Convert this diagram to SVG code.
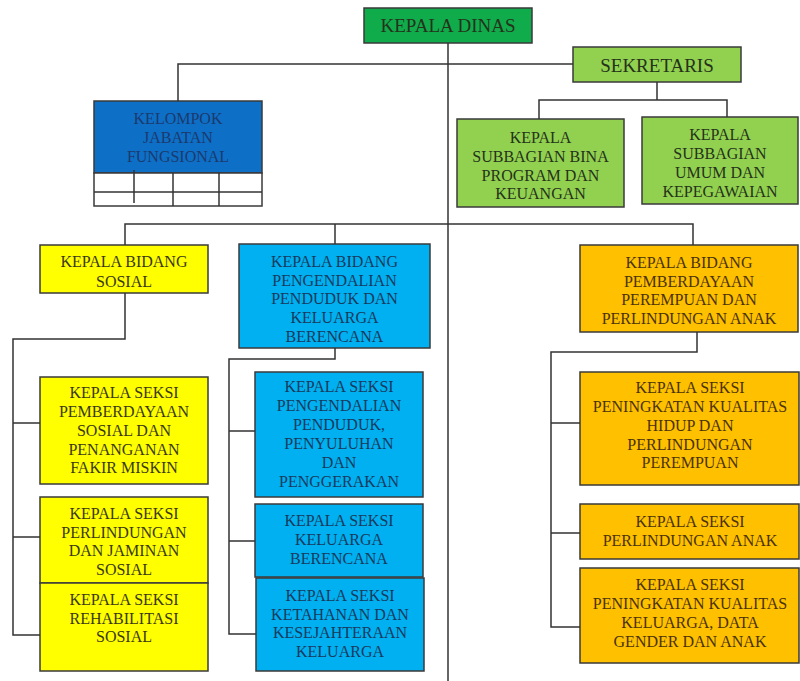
<svg xmlns="http://www.w3.org/2000/svg" width="800" height="681" viewBox="0 0 800 681">
<style>
  .box { stroke: #3a3a3a; stroke-width: 1.5; }
  .t { font-family: "Liberation Serif", "Times New Roman", serif; font-size: 16px; text-anchor: middle; }
  .big { font-size: 19px; }
  .dg { fill: #0f9c45; } .lg { fill: #92D050; } .kb { fill: #0E6FC6; }
  .ye { fill: #FFFF00; } .cy { fill: #00B0F0; } .or { fill: #FFC000; }
  .tg { fill: #24331a; } .tb { fill: #1b3a6e; } .tc { fill: #173a5e; }
  .ty { fill: #3a3814; } .to { fill: #4a3206; }
  .ln { fill: none; stroke: #333; stroke-width: 1.5; }
</style>
<rect width="800" height="681" fill="#ffffff"/>

<g id="kepala-dinas">
  <rect class="box" x="364" y="8" width="168" height="35" fill="#10AC4C"/>
  <text class="t big tg" x="448" y="32">KEPALA DINAS</text>
</g>

<g id="sekretaris">
  <rect class="box lg" x="573" y="47" width="168" height="35"/>
  <text class="t big tg" x="657" y="72">SEKRETARIS</text>
</g>

<g id="kelompok-jabatan-fungsional">
  <rect class="box kb" x="94" y="101" width="168" height="72"/>
  <rect class="box" x="94" y="173" width="168" height="33" fill="#ffffff"/>
  <line class="ln" x1="94" y1="192" x2="262" y2="192"/>
  <line class="ln" x1="134" y1="170" x2="134" y2="203"/>
  <line class="ln" x1="173" y1="173" x2="173" y2="206"/>
  <line class="ln" x1="219" y1="173" x2="219" y2="206"/>
  <text class="t tb" x="178" y="123.5">KELOMPOK</text>
  <text class="t tb" x="178" y="142.5">JABATAN</text>
  <text class="t tb" x="178" y="161.5">FUNGSIONAL</text>
</g>

<g id="subbagian-bina-program">
  <rect class="box lg" x="457" y="119" width="167" height="88"/>
  <text class="t tg" x="540.5" y="143">KEPALA</text>
  <text class="t tg" x="540.5" y="162">SUBBAGIAN BINA</text>
  <text class="t tg" x="540.5" y="181">PROGRAM DAN</text>
  <text class="t tg" x="540.5" y="199">KEUANGAN</text>
</g>

<g id="subbagian-umum">
  <rect class="box lg" x="642" y="117" width="156" height="87"/>
  <text class="t tg" x="720" y="140">KEPALA</text>
  <text class="t tg" x="720" y="159">SUBBAGIAN</text>
  <text class="t tg" x="720" y="178">UMUM DAN</text>
  <text class="t tg" x="720" y="197">KEPEGAWAIAN</text>
</g>

<g id="bidang-sosial">
  <rect class="box ye" x="40" y="245" width="168" height="48"/>
  <text class="t ty" x="124" y="267">KEPALA BIDANG</text>
  <text class="t ty" x="124" y="287">SOSIAL</text>
</g>

<g id="bidang-pengendalian">
  <rect class="box cy" x="239" y="244" width="191" height="104"/>
  <text class="t tc" x="334.5" y="267">KEPALA BIDANG</text>
  <text class="t tc" x="334.5" y="285.5">PENGENDALIAN</text>
  <text class="t tc" x="334.5" y="304">PENDUDUK DAN</text>
  <text class="t tc" x="334.5" y="323">KELUARGA</text>
  <text class="t tc" x="334.5" y="342">BERENCANA</text>
</g>

<g id="bidang-pemberdayaan">
  <rect class="box or" x="580" y="245" width="218" height="87"/>
  <text class="t to" x="689" y="268">KEPALA BIDANG</text>
  <text class="t to" x="689" y="286.5">PEMBERDAYAAN</text>
  <text class="t to" x="689" y="305">PEREMPUAN DAN</text>
  <text class="t to" x="689" y="324">PERLINDUNGAN ANAK</text>
</g>

<g id="seksi-pemberdayaan-sosial">
  <rect class="box ye" x="40" y="377" width="168" height="107"/>
  <text class="t ty" x="124" y="398">KEPALA SEKSI</text>
  <text class="t ty" x="124" y="417">PEMBERDAYAAN</text>
  <text class="t ty" x="124" y="436">SOSIAL DAN</text>
  <text class="t ty" x="124" y="455">PENANGANAN</text>
  <text class="t ty" x="124" y="473">FAKIR MISKIN</text>
</g>

<g id="seksi-perlindungan-jaminan">
  <rect class="box ye" x="40" y="497" width="168" height="86"/>
  <text class="t ty" x="124" y="519">KEPALA SEKSI</text>
  <text class="t ty" x="124" y="537.5">PERLINDUNGAN</text>
  <text class="t ty" x="124" y="556">DAN JAMINAN</text>
  <text class="t ty" x="124" y="575">SOSIAL</text>
</g>

<g id="seksi-rehabilitasi">
  <rect class="box ye" x="40" y="583" width="168" height="88"/>
  <text class="t ty" x="124" y="605">KEPALA SEKSI</text>
  <text class="t ty" x="124" y="623.5">REHABILITASI</text>
  <text class="t ty" x="124" y="642">SOSIAL</text>
</g>

<g id="seksi-pengendalian-penduduk">
  <rect class="box cy" x="255" y="372" width="168" height="125"/>
  <text class="t tc" x="339" y="392">KEPALA SEKSI</text>
  <text class="t tc" x="339" y="411">PENGENDALIAN</text>
  <text class="t tc" x="339" y="430">PENDUDUK,</text>
  <text class="t tc" x="339" y="449">PENYULUHAN</text>
  <text class="t tc" x="339" y="468">DAN</text>
  <text class="t tc" x="339" y="487">PENGGERAKAN</text>
</g>

<g id="seksi-keluarga-berencana">
  <rect class="box cy" x="255" y="504" width="168" height="73"/>
  <text class="t tc" x="339" y="526">KEPALA SEKSI</text>
  <text class="t tc" x="339" y="545">KELUARGA</text>
  <text class="t tc" x="339" y="564">BERENCANA</text>
</g>

<g id="seksi-ketahanan">
  <rect class="box cy" x="256" y="578" width="168" height="93"/>
  <text class="t tc" x="340" y="601">KEPALA SEKSI</text>
  <text class="t tc" x="340" y="619.5">KETAHANAN DAN</text>
  <text class="t tc" x="340" y="638">KESEJAHTERAAN</text>
  <text class="t tc" x="340" y="657">KELUARGA</text>
</g>

<g id="seksi-kualitas-hidup">
  <rect class="box or" x="580" y="372" width="219" height="113"/>
  <text class="t to" x="690" y="393">KEPALA SEKSI</text>
  <text class="t to" x="690" y="412">PENINGKATAN KUALITAS</text>
  <text class="t to" x="690" y="431">HIDUP DAN</text>
  <text class="t to" x="690" y="450">PERLINDUNGAN</text>
  <text class="t to" x="690" y="468">PEREMPUAN</text>
</g>

<g id="seksi-perlindungan-anak">
  <rect class="box or" x="580" y="504" width="219" height="55"/>
  <text class="t to" x="690" y="527">KEPALA SEKSI</text>
  <text class="t to" x="690" y="546">PERLINDUNGAN ANAK</text>
</g>

<g id="seksi-kualitas-keluarga">
  <rect class="box or" x="580" y="568" width="219" height="95"/>
  <text class="t to" x="690" y="590">KEPALA SEKSI</text>
  <text class="t to" x="690" y="609">PENINGKATAN KUALITAS</text>
  <text class="t to" x="690" y="628">KELUARGA, DATA</text>
  <text class="t to" x="690" y="647">GENDER DAN ANAK</text>
</g>

<g id="connectors">
  <path class="ln" d="M448 43 V681"/>
  <path class="ln" d="M178 101 V64 H573"/>
  <path class="ln" d="M657 82 V100 M539 119 V100 H727 V117"/>
  <path class="ln" d="M125 245 V224 H693 V245 M335 224 V244"/>
  <path class="ln" d="M125 293 V339 H13 V635 H40 M13 423 H40 M13 537 H40"/>
  <path class="ln" d="M335 348 V359 H229 V634 H256 M229 431 H255 M229 541 H255"/>
  <path class="ln" d="M697 332 V352 H551 V627 H580 M551 423 H580 M551 533 H580"/>
</g>
</svg>
